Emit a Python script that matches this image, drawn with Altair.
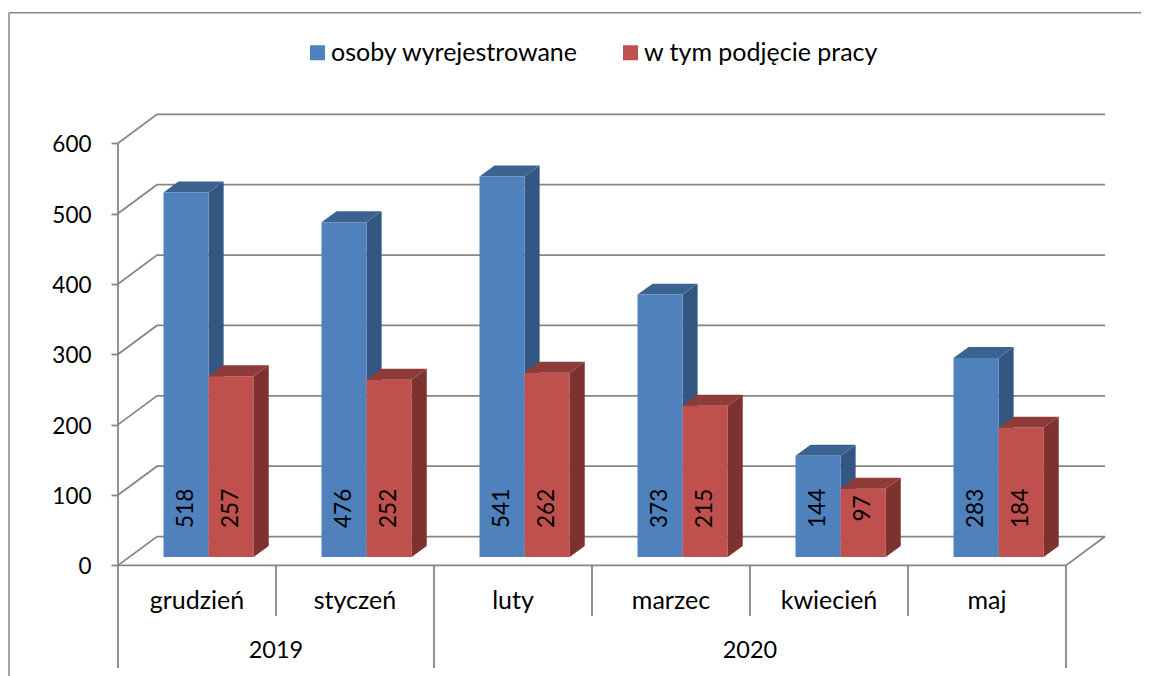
import altair as alt
import pandas as pd

months = ["grudzień", "styczeń", "luty", "marzec", "kwiecień", "maj"]
years = ["2019", "2020"]
year_centers = [1, 4]
series_names = ["osoby wyrejestrowane", "w tym podjęcie pracy"]
blue_values = [518, 476, 541, 373, 144, 283]
red_values = [257, 252, 262, 215, 97, 184]
y_ticks = [0, 100, 200, 300, 400, 500, 600]

FONT = "Lato"
FS = 25
DIGIT_FS = 22.5
YEAR_FS = 23.5
GRID = "#868686"
W, H = 1133, 668
X_DOM = [-0.6962, 6.4747]
Y_DOM = [-157.2, 792.1]
WALL_DX, WALL_DY = 0.2468, 41.0
BAR_W = 0.2855
BAR_X0 = 0.288
BASE = 11.8
DEPTH_DX, DEPTH_DY = 0.095, 15.6
LABEL_V = 81
COLORS = {series_names[0]: ("#4F81BD", "#335683", "#3B6391"),
          series_names[1]: ("#C0504D", "#7D3230", "#8F3B39")}

xs = alt.Scale(domain=X_DOM, nice=False, zero=False)
ys = alt.Scale(domain=Y_DOM, nice=False, zero=False)
y_axis = alt.Axis(values=y_ticks, offset=-110, domain=False, grid=False, tickSize=7,
                  tickColor=GRID, tickWidth=1.8, labelFont=FONT, labelFontSize=DIGIT_FS,
                  labelColor="#000000", labelPadding=20, labelOffset=1.5, title=None)
X = lambda f: alt.X(f, type="quantitative", scale=xs, axis=None)
Y = lambda f: alt.Y(f, type="quantitative", scale=ys, axis=y_axis, title=None)

# walls and floor
wall_rows = []
for v in y_ticks:
    wall_rows += [(v, 0, v), (v, WALL_DX, v + WALL_DY), (v, 6 + WALL_DX, v + WALL_DY)]
wall_rows += [("floor", 0, 0), ("floor", 6, 0), ("floor", 6 + WALL_DX, WALL_DY)]
walls = pd.DataFrame(wall_rows, columns=["g", "x", "y"])
walls["g"] = walls["g"].astype(str)
wall_layer = alt.Chart(walls).mark_line(color=GRID, strokeWidth=1.8).encode(
    x=X("x"), y=Y("y"), detail="g:N", order="x:Q")

# category separators and main axis line
seps = pd.DataFrame({"x": [0, 1, 2, 3, 4, 5, 6],
                     "bottom": [-146, -72, -146, -72, -72, -72, -146],
                     "top": [0] * 7})
sep_layer = alt.Chart(seps).mark_rule(color=GRID, strokeWidth=1.8).encode(
    x=X("x"), y=Y("bottom"), y2=alt.Y2("top"))
axis_line = alt.Chart(pd.DataFrame({"x": [0], "a": [0], "b": [600]})).mark_rule(
    color=GRID, strokeWidth=1.8).encode(x=X("x"), y=Y("a"), y2=alt.Y2("b"))

# chart frame
frame_left = alt.Chart(pd.DataFrame({"k": [0]})).mark_rule(color=GRID, strokeWidth=1.5).encode(
    x=alt.value(1), y=alt.value(4.7), y2=alt.value(H))
frame_top = alt.Chart(pd.DataFrame({"k": [0]})).mark_rule(color=GRID, strokeWidth=1.5).encode(
    x=alt.value(1), x2=alt.value(W), y=alt.value(4.7))

# bars
front_rows, depth_layers = [], []
for s, (name, vals) in enumerate(zip(series_names, [blue_values, red_values])):
    side_rows, top_rows = [], []
    for i, v in enumerate(vals):
        x0 = i + BAR_X0 + s * BAR_W
        x1 = x0 + BAR_W
        front_rows.append(dict(series=name, x0=x0, x1=x1, y0=BASE, y1=v + BASE,
                               label=str(v), xc=(x0 + x1) / 2, yc=LABEL_V))
        side_rows += [dict(c=i, x=x1, lo=BASE, hi=v + BASE),
                      dict(c=i, x=x1 + DEPTH_DX, lo=BASE + DEPTH_DY, hi=v + BASE + DEPTH_DY)]
        top_rows += [dict(c=i, y=v + BASE, a=x0, b=x1),
                     dict(c=i, y=v + BASE + DEPTH_DY, a=x0 + DEPTH_DX, b=x1 + DEPTH_DX)]
    _, side_c, top_c = COLORS[name]
    side = alt.Chart(pd.DataFrame(side_rows)).mark_area(color=side_c, opacity=1).encode(
        x=X("x"), y=Y("lo"), y2=alt.Y2("hi"), detail="c:N")
    top = alt.Chart(pd.DataFrame(top_rows)).mark_area(color=top_c, orient="horizontal", opacity=1).encode(
        y=Y("y"), x=X("a"), x2=alt.X2("b"), detail="c:N")
    depth_layers.append(side + top)

front_df = pd.DataFrame(front_rows)
front = alt.Chart(front_df).mark_rect().encode(
    x=X("x0"), x2=alt.X2("x1"), y=Y("y0"), y2=alt.Y2("y1"),
    color=alt.Color("series:N", title=None,
                    scale=alt.Scale(domain=series_names, range=[COLORS[n][0] for n in series_names]),
                    legend=alt.Legend(orient="none", legendX=297, legendY=32, direction="horizontal",
                                      symbolType="square", symbolSize=225, symbolStrokeWidth=0,
                                      labelFont=FONT, labelFontSize=FS, labelColor="#000000",
                                      labelOffset=1, columnPadding=39, labelLimit=400, title=None)))
bar_labels = alt.Chart(front_df).mark_text(font=FONT, fontSize=DIGIT_FS, angle=270, color="#000000",
                                           baseline="middle", align="center").encode(
    x=X("xc"), y=Y("yc"), text="label:N")

month_df = pd.DataFrame({"x": [i + 0.5 for i in range(6)], "y": [-50] * 6, "t": months})
month_text = alt.Chart(month_df).mark_text(font=FONT, fontSize=FS, color="#000000", baseline="middle").encode(
    x=X("x"), y=Y("y"), text="t:N")
year_df = pd.DataFrame({"x": year_centers, "y": [-121.5, -121.5], "t": years})
year_text = alt.Chart(year_df).mark_text(font=FONT, fontSize=YEAR_FS, color="#000000", baseline="middle").encode(
    x=X("x"), y=Y("y"), text="t:N")

chart = alt.layer(
    wall_layer, frame_left, frame_top, sep_layer, axis_line,
    depth_layers[0], front, depth_layers[1], bar_labels, month_text, year_text
).properties(width=W, height=H, padding=0,
             autosize=alt.AutoSizeParams(type="none")).configure_view(stroke=None)

chart.save("out.html", embed_options={"renderer": "svg", "actions": False})
